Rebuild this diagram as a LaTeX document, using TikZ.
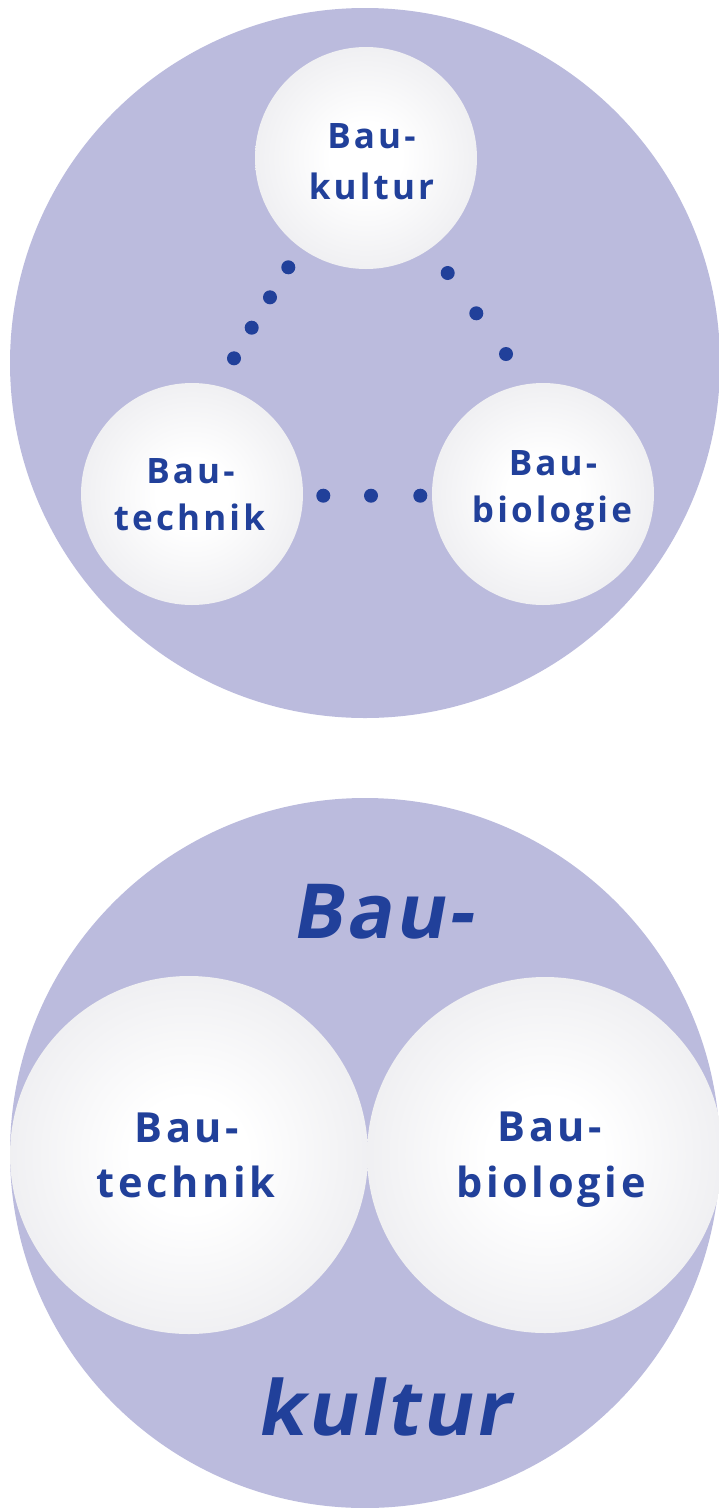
\documentclass[tikz,border=0pt]{standalone}
\usepackage{fontspec}
\setmainfont{Open Sans}
\newfontfamily\lblfont{Open Sans}[LetterSpace=9]
\newfontfamily\oblfont{Open Sans}[FakeSlant=0.18, LetterSpace=4]
\definecolor{lav}{HTML}{BBBBDD}
\definecolor{ink}{HTML}{21409A}
\definecolor{edgegray}{HTML}{E1E2E5}
\definecolor{midgray}{HTML}{EDEDF0}
\pgfdeclareradialshading{ballshade}{\pgfpointorigin}{color(0bp)=(white); color(8bp)=(white); color(28bp)=(midgray); color(50bp)=(edgegray)}
\tikzset{
  bigc/.style={circle, fill=lav, minimum size=710pt, inner sep=0pt},
  ballc/.style={circle, shading=ballshade, minimum size=#1, inner sep=0pt},
  slbl/.style={text=ink, anchor=base, inner sep=0pt, font=\lblfont\bfseries\fontsize{35}{40}\selectfont},
  mlbl/.style={text=ink, anchor=base, inner sep=0pt, font=\lblfont\bfseries\fontsize{41.5}{44}\selectfont},
  blbl/.style={text=ink, anchor=base, inner sep=0pt, font=\oblfont\bfseries\fontsize{76}{80}\selectfont},
  dotc/.style={fill=ink}
}
\begin{document}
\begin{tikzpicture}[x=1pt,y=-1pt]
\useasboundingbox (0,0) rectangle (719,1508);
% top diagram
\node[bigc] (topc) at (365,363) {};
\node[ballc=222pt] (kultur) at (366,158) {};
\node[ballc=222pt] (technik) at (192,494) {};
\node[ballc=222pt] (biologie) at (543,494) {};
\foreach \p in {(288.3,267.3),(270,297.3),(251.7,327.7),(234,358.3),
                (447.7,273),(476.3,313.3),(506,354),
                (323.3,495.7),(371,495.7),(420.3,495.7)}
  \fill[dotc] \p circle (7pt);
\node[slbl] (k1) at (371.5,148) {Bau-};
\node[slbl] (k2) at (371.5,199) {kultur};
\node[slbl] (t1) at (190.5,483) {Bau-};
\node[slbl] (t2) at (189.5,530) {technik};
\node[slbl] (b1) at (553,475) {Bau-};
\node[slbl] (b2) at (552,522.7) {biologie};
% bottom diagram
\node[bigc] (botc) at (365,1153) {};
\node[ballc=358pt] (technik2) at (189,1155) {};
\node[ballc=356pt] (biologie2) at (545,1155) {};
\node[mlbl] (t3) at (187,1142) {Bau-};
\node[mlbl] (t4) at (186,1197) {technik};
\node[mlbl] (b3) at (550,1141) {Bau-};
\node[mlbl] (b4) at (551,1197) {biologie};
\node[blbl] (g1) at (382,938) {Bau-};
\node[blbl] (g2) at (383,1435) {kultur};
\end{tikzpicture}
\end{document}
